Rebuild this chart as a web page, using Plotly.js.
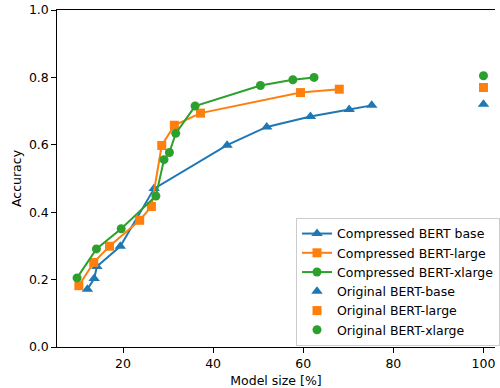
<!DOCTYPE html>
<html>
<head>
<meta charset="utf-8">
<script src="https://cdn.plot.ly/plotly-3.0.1.min.js"></script>
<style>html,body{margin:0;padding:0;background:#fff;}#chart{width:500px;height:388px;}</style>
</head>
<body>
<div id="chart"></div>
<script>
// Data
const baseSize = [12.1, 13.6, 14.2, 19.4, 26.9, 43.1, 51.9, 61.6, 70.2, 75.2];
const baseAcc  = [0.171, 0.203, 0.239, 0.299, 0.470, 0.599, 0.653, 0.684, 0.705, 0.717];

const largeSize = [10.2, 13.5, 17.0, 23.7, 26.3, 28.6, 31.4, 37.2, 59.4, 68.0];
const largeAcc  = [0.182, 0.251, 0.299, 0.376, 0.417, 0.598, 0.658, 0.694, 0.755, 0.765];

const xlargeSize = [9.8, 14.1, 19.6, 27.3, 29.1, 30.3, 31.7, 36.0, 50.5, 57.7, 62.4];
const xlargeAcc  = [0.205, 0.291, 0.351, 0.448, 0.556, 0.577, 0.634, 0.715, 0.776, 0.793, 0.800];

const originalSize = [100];
const origBaseAcc = [0.720];
const origLargeAcc = [0.770];
const origXlargeAcc = [0.805];

const xTicks = [20, 40, 60, 80, 100];
const yTicks = [0.0, 0.2, 0.4, 0.6, 0.8, 1.0];

const blue = '#1f77b4', orange = '#ff7f0e', green = '#2ca02c';

const traces = [
  {x: baseSize, y: baseAcc, mode: 'lines+markers', name: 'Compressed BERT base',
   line: {color: blue, width: 2}, marker: {symbol: 'triangle-up', size: 10, color: blue}},
  {x: largeSize, y: largeAcc, mode: 'lines+markers', name: 'Compressed BERT-large',
   line: {color: orange, width: 2}, marker: {symbol: 'square', size: 9, color: orange}},
  {x: xlargeSize, y: xlargeAcc, mode: 'lines+markers', name: 'Compressed BERT-xlarge',
   line: {color: green, width: 2}, marker: {symbol: 'circle', size: 9, color: green}},
  {x: originalSize, y: origBaseAcc, mode: 'markers', name: 'Original BERT-base',
   marker: {symbol: 'triangle-up', size: 10, color: blue}},
  {x: originalSize, y: origLargeAcc, mode: 'markers', name: 'Original BERT-large',
   marker: {symbol: 'square', size: 9, color: orange}},
  {x: originalSize, y: origXlargeAcc, mode: 'markers', name: 'Original BERT-xlarge',
   marker: {symbol: 'circle', size: 9, color: green}}
];

const font = {family: 'DejaVu Sans', size: 12.5, color: '#000'};
const legFont = {family: 'DejaVu Sans', size: 12.5, color: '#000'};

const layout = {
  width: 500, height: 388,
  margin: {l: 57, r: 0, t: 10, b: 41, pad: 0},
  paper_bgcolor: '#fff', plot_bgcolor: '#fff',
  font: font,
  showlegend: true,
  xaxis: {
    range: [5.35, 102.56], tickvals: xTicks, ticktext: xTicks.map(String),
    automargin: false, ticklabeloverflow: 'allow',
    showgrid: false, zeroline: false, showline: true, linecolor: '#000', linewidth: 1.2,
    mirror: true, ticks: 'outside', ticklen: 4.5, tickwidth: 1, tickcolor: '#000',
    tickfont: font,
    title: {text: 'Model size [%]', font: font, standoff: 6}
  },
  yaxis: {
    range: [0, 1], tickvals: yTicks, ticktext: yTicks.map(v => v.toFixed(1)),
    automargin: false,
    showgrid: false, zeroline: false, showline: true, linecolor: '#000', linewidth: 1.2,
    mirror: false, ticks: 'outside', ticklen: 4.5, tickwidth: 1, tickcolor: '#000',
    tickfont: font,
    title: {text: 'Accuracy', font: font, standoff: 4}
  },
  legend: {
    x: 0.546, y: 0.383, xanchor: 'left', yanchor: 'top',
    bgcolor: 'rgba(255,255,255,0.8)', bordercolor: '#cccccc', borderwidth: 1,
    font: legFont, tracegroupgap: 0, itemwidth: 30,
    entrywidth: 190, entrywidthmode: 'pixels'
  }
};

Plotly.newPlot('chart', traces, layout, {displayModeBar: false, staticPlot: true});
</script>
</body>
</html>
